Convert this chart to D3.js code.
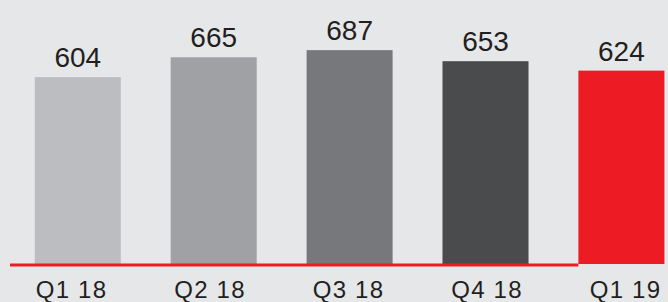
<!DOCTYPE html>
<html>
<head>
<meta charset="utf-8">
<script src="https://cdn.jsdelivr.net/npm/d3@7"></script>
<style>
	body { margin: 0; background: #e6e7e8; }
	svg { display: block; }
</style>
</head>
<body>
<svg width="668" height="302"></svg>
<script>
// quarterly values
const quarters = ["Q1 18", "Q2 18", "Q3 18", "Q4 18", "Q1 19"];
const values = [604, 665, 687, 653, 624];
const barColors = ["#bcbdc0", "#a0a1a4", "#77787b", "#4a4b4d", "#ed1c24"];

const canvas = d3.select("svg");
let width = 668;
let height = 302;
let baseY = 264;

// bars do not start at zero in the original
let yScale = d3.scaleLinear().domain([29, 700]).range([baseY, baseY - 0.325 * 671]);

let step = 135.9;
let xScale = d3.scaleBand()
	.domain(quarters)
	.range([77.8 - step / 2, 77.8 - step / 2 + step * 5])
	.paddingInner(0.367)
	.paddingOuter(0.367 / 2);

let labelScale = d3.scalePoint().domain(quarters).range([71, 625]);

canvas.append("rect").attr("width", width).attr("height", height).attr("fill", "#e6e7e8");

canvas.append("g")
	.selectAll()
	.data(values)
	.join("rect")
	.attr("x", (d, i) => xScale(quarters[i]))
	.attr("y", (d) => yScale(d))
	.attr("width", xScale.bandwidth())
	.attr("height", (d) => baseY - yScale(d))
	.attr("fill", (d, i) => barColors[i]);

// red baseline
canvas.append("line")
	.attr("x1", 10).attr("x2", xScale(quarters[4]))
	.attr("y1", baseY + 1).attr("y2", baseY + 1)
	.attr("stroke", "#ed1c24").attr("stroke-width", 3.2);

// value labels
canvas.append("g")
	.attr("font-family", "'Liberation Sans', Arial, sans-serif")
	.attr("font-size", 28)
	.attr("fill", "#231f20")
	.attr("text-anchor", "middle")
	.selectAll()
	.data(values)
	.join("text")
	.attr("x", (d, i) => xScale(quarters[i]) + xScale.bandwidth() / 2)
	.attr("y", (d) => yScale(d) - 10)
	.text((d) => d);

// category axis
let xAxis = d3.axisBottom(labelScale).tickSize(0).tickPadding(0);
let axisG = canvas.append("g").attr("transform", "translate(0,281)").call(xAxis);
axisG.select(".domain").remove();
axisG.selectAll("text")
	.attr("dy", 0)
	.attr("y", 17)
	.attr("font-family", "'Liberation Sans', Arial, sans-serif")
	.attr("font-size", 24)
	.attr("letter-spacing", 1.2)
	.attr("fill", "#231f20");
</script>
</body>
</html>
